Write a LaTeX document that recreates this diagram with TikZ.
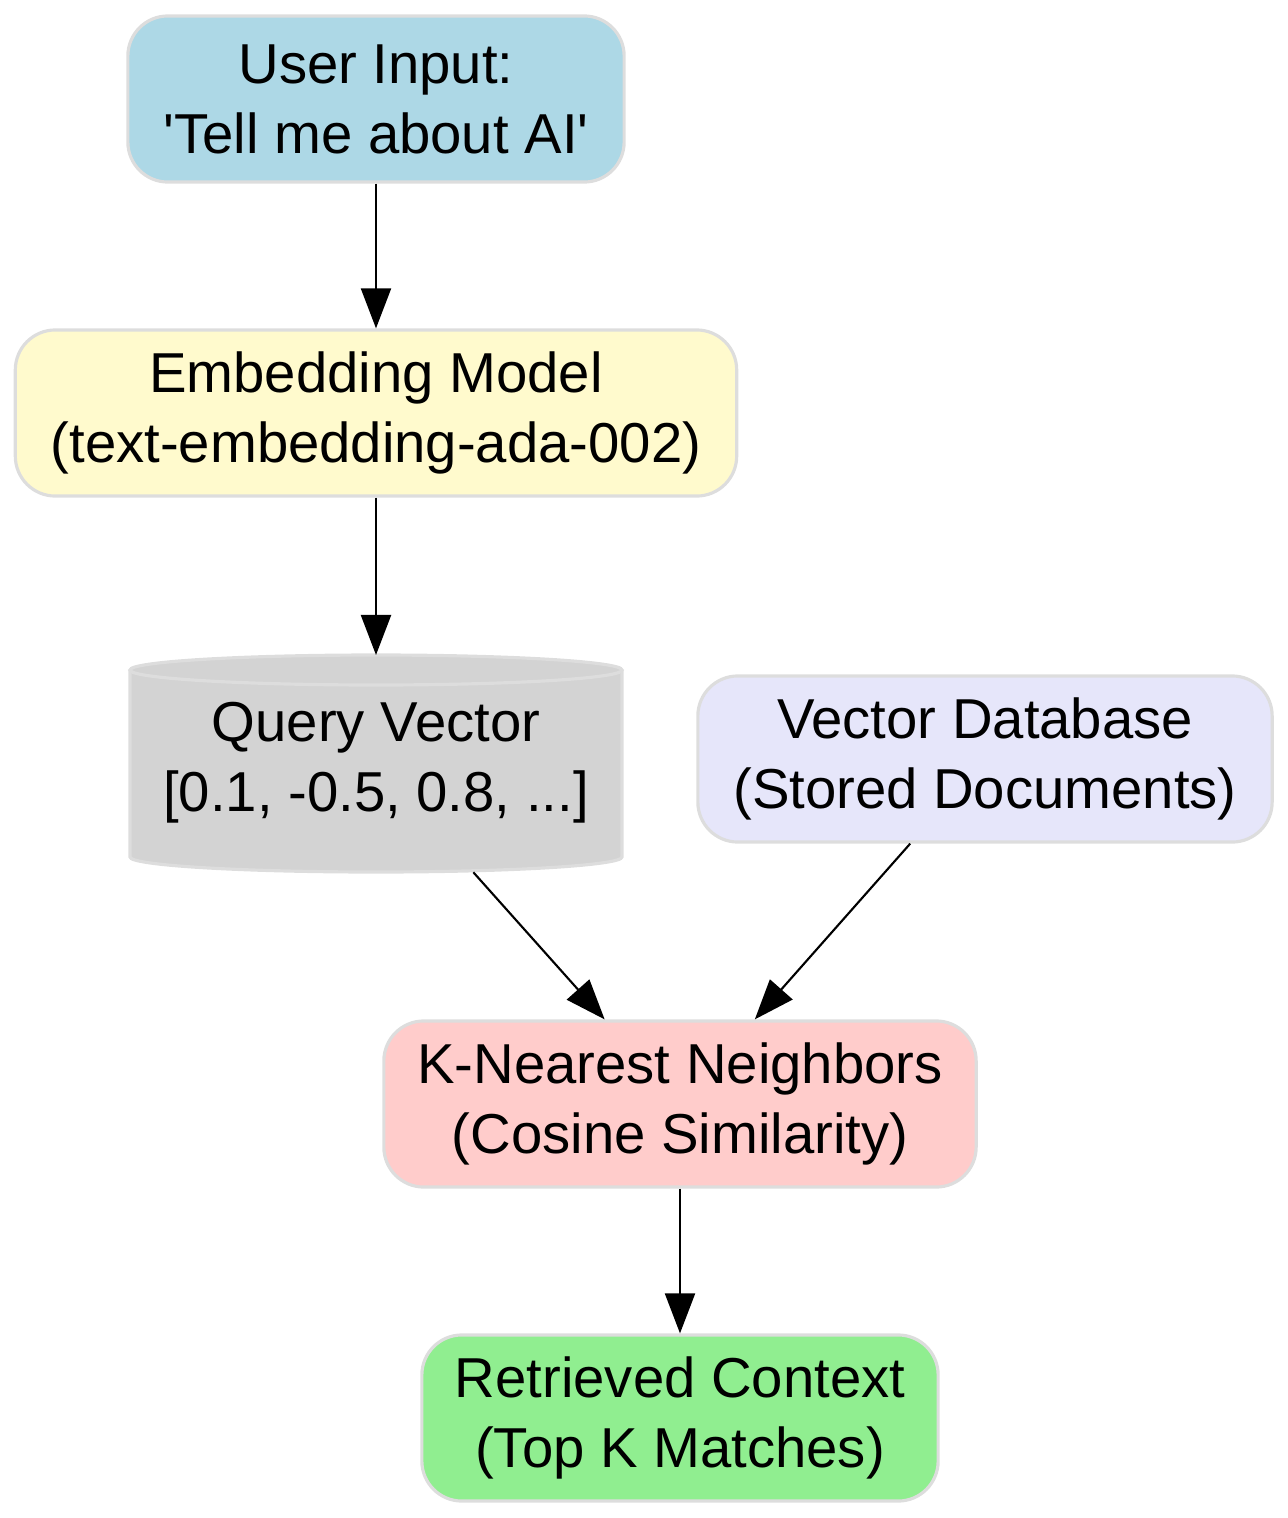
\documentclass[tikz,border=0pt]{standalone}
\usepackage{fontspec}
\setmainfont{Liberation Sans}
\usetikzlibrary{arrows.meta}
\definecolor{bord}{HTML}{DDDDDD}
\definecolor{cblue}{HTML}{ADD8E6}
\definecolor{cyel}{HTML}{FFFACD}
\definecolor{cgray}{HTML}{D3D3D3}
\definecolor{clav}{HTML}{E6E6FA}
\definecolor{cred}{HTML}{FFCCCB}
\definecolor{cgreen}{HTML}{90EE90}
\tikzset{
 txt/.style={font=\fontsize{16pt}{19.9pt}\selectfont},
 box/.style={draw=bord,line width=0.9pt,rounded corners=0.4cm,align=center,inner sep=0pt,txt,minimum height=1.66cm},
 conn/.style={line width=0.6pt,-{Triangle[length=0.4cm,width=0.3cm]}}
}
\begin{document}
\begin{tikzpicture}[x=0.01cm,y=-0.01cm]
\useasboundingbox (0,0) rectangle (1288,1518);
\node[box,fill=cblue,minimum width=4.96cm] (u) at (376,99) {User Input:\\\textquotesingle Tell me about AI\textquotesingle};
\node[box,fill=cyel,minimum width=7.21cm] (e) at (376,413) {Embedding Model\\(text-embedding-ada-002)};
% cylinder
\fill[cgray] (130,670) rectangle (622,857);
\fill[cgray] (376,670) ellipse[x radius=246,y radius=15];
\fill[cgray] (376,857) ellipse[x radius=246,y radius=15];
\draw[bord,line width=0.9pt] (376,670) ellipse[x radius=246,y radius=15];
\draw[bord,line width=0.9pt] (130,670) -- (130,857) arc[start angle=180,end angle=0,x radius=246,y radius=15] -- (622,670);
\node[align=center,inner sep=0pt,minimum width=4.92cm,minimum height=2.17cm,txt] (q) at (376,763) {Query Vector\\{[}0.1, -0.5, 0.8, ...{]}};
\node[box,fill=clav,minimum width=5.74cm] (d) at (985,759) {Vector Database\\(Stored Documents)};
\node[box,fill=cred,minimum width=5.92cm] (k) at (680,1104) {K-Nearest Neighbors\\(Cosine Similarity)};
\node[box,fill=cgreen,minimum width=5.16cm] (r) at (680,1418) {Retrieved Context\\(Top K Matches)};
\draw[conn] (u) -- (e);
\draw[conn] (e) -- (q.north |- 0,655);
\draw[conn] (q) -- (k);
\draw[conn] (d) -- (k);
\draw[conn] (k) -- (r);
\end{tikzpicture}
\end{document}
